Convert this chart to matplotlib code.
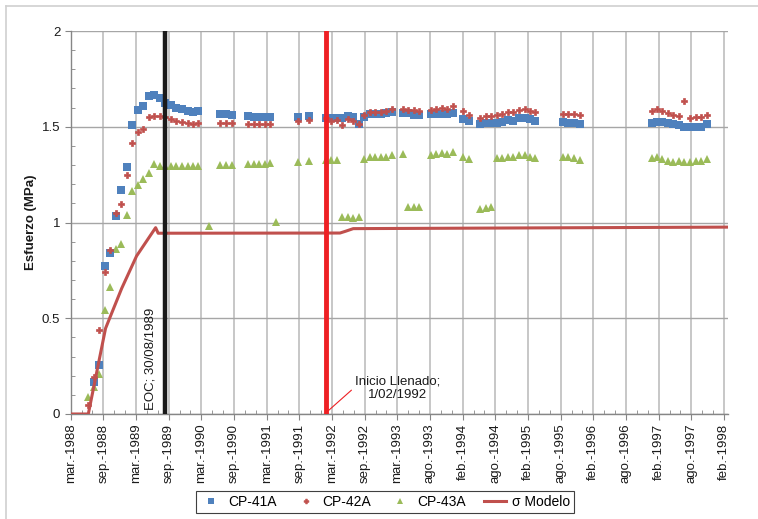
import numpy as np
import pandas as pd
import matplotlib
matplotlib.use('Agg')
import matplotlib.pyplot as plt
from matplotlib.lines import Line2D

plt.rcParams['font.family'] = ['Liberation Sans', 'DejaVu Sans']

# lecturas mensuales de las celdas de presion (MPa)
fechas = [
    '1988-07-01', '1988-08-01', '1988-09-01', '1988-10-01', '1988-11-01', '1988-12-01',
    '1989-01-01', '1989-02-01', '1989-03-01', '1989-04-01', '1989-05-01', '1989-06-01',
    '1989-07-01', '1989-08-01', '1989-09-01', '1989-10-01', '1989-11-01', '1989-12-01',
    '1990-01-01', '1990-02-01', '1990-03-01', '1990-05-01', '1990-07-01', '1990-08-01',
    '1990-09-01', '1990-12-01', '1991-01-01', '1991-02-01', '1991-03-01', '1991-04-01',
    '1991-05-01', '1991-09-01', '1991-11-01', '1992-02-01', '1992-03-01', '1992-04-01',
    '1992-05-01', '1992-06-01', '1992-07-01', '1992-08-01', '1992-09-01', '1992-10-01',
    '1992-11-01', '1992-12-01', '1993-01-01', '1993-02-01', '1993-04-01', '1993-05-01',
    '1993-06-01', '1993-07-01', '1993-09-01', '1993-10-01', '1993-11-01', '1993-12-01',
    '1994-01-01', '1994-03-01', '1994-04-01', '1994-06-01', '1994-07-01', '1994-08-01',
    '1994-09-01', '1994-10-01', '1994-11-01', '1994-12-01', '1995-01-01', '1995-02-01',
    '1995-03-01', '1995-04-01', '1995-09-01', '1995-10-01', '1995-11-01', '1995-12-01',
    '1997-01-01', '1997-02-01', '1997-03-01', '1997-04-01', '1997-05-01', '1997-06-01',
    '1997-07-01', '1997-08-01', '1997-09-01', '1997-10-01', '1997-11-01',
]
nan = np.nan
cp41a = [
    nan, 0.169, 0.257, 0.773, 0.842, 1.035,
    1.17, 1.29, 1.51, 1.59, 1.61, 1.66,
    1.666, 1.65, 1.626, 1.615, 1.60, 1.593,
    1.584, 1.579, 1.584, nan, 1.567, 1.567,
    1.561, 1.558, 1.553, 1.553, 1.55, 1.553,
    nan, 1.553, 1.556, 1.548, 1.548, 1.548,
    1.548, 1.558, 1.553, 1.514, 1.553, 1.567,
    1.565, 1.565, 1.57, 1.575, 1.574, 1.57,
    1.563, 1.563, 1.565, 1.565, 1.565, 1.565,
    1.57, 1.542, 1.53, 1.514, 1.519, 1.521,
    1.521, 1.527, 1.535, 1.532, 1.548, 1.548,
    1.539, 1.532, 1.527, 1.52, 1.52, 1.513,
    1.521, 1.527, 1.527, 1.521, 1.514, 1.509,
    1.50, 1.50, 1.50, 1.50, 1.513,
]
cp42a = [
    0.047, 0.195, 0.437, 0.741, 0.856, 1.051,
    1.098, 1.246, 1.414, 1.47, 1.49, 1.551,
    1.556, 1.558, 1.55, 1.539, 1.53, 1.523,
    1.52, 1.513, 1.518, nan, 1.518, 1.518,
    1.518, 1.515, 1.515, 1.515, 1.514, 1.516,
    nan, 1.528, 1.535, 1.548, 1.532, 1.535,
    1.509, 1.539, 1.53, 1.513, 1.561, 1.577,
    1.575, 1.575, 1.582, 1.591, 1.591, 1.589,
    1.589, 1.582, 1.586, 1.593, 1.596, 1.593,
    1.607, 1.582, 1.561, 1.546, 1.556, 1.558,
    1.56, 1.565, 1.577, 1.575, 1.587, 1.593,
    1.584, 1.575, 1.568, 1.568, 1.565, 1.563,
    1.584, 1.591, 1.584, 1.57, 1.563, 1.558,
    1.636, 1.548, 1.553, 1.553, 1.563,
]
cp43a = [
    0.089, 0.139, 0.209, 0.541, 0.665, 0.862,
    0.889, 1.041, 1.164, 1.197, 1.227, 1.26,
    1.305, 1.297, 1.297, 1.295, 1.294, 1.293,
    1.293, 1.294, 1.295, 0.982, 1.30, 1.30,
    1.302, 1.305, 1.308, 1.307, 1.308, 1.312,
    1.004, 1.318, 1.323, 1.325, 1.325, 1.325,
    1.027, 1.027, 1.025, 1.03, 1.33, 1.34,
    1.34, 1.34, 1.343, 1.35, 1.359, 1.083,
    1.083, 1.083, 1.352, 1.359, 1.361, 1.357,
    1.366, 1.34, 1.332, 1.072, 1.077, 1.08,
    1.337, 1.339, 1.344, 1.344, 1.352, 1.354,
    1.344, 1.337, 1.34, 1.34, 1.338, 1.328,
    1.339, 1.344, 1.332, 1.321, 1.318, 1.32,
    1.318, 1.318, 1.323, 1.323, 1.33,
]

# curva del modelo
modelo_fechas = ['1988-03-28', '1988-07-03', '1988-10-06', '1989-01-03', '1989-03-26',
                 '1989-07-09', '1989-07-23', '1992-04-20', '1992-05-23', '1992-07-02',
                 '1998-03-23']
modelo_valores = [0.0, 0.0, 0.447, 0.656, 0.825, 0.973, 0.944, 0.945, 0.955, 0.968, 0.976]

eje_inicio = '1988-03-28'
eoc = '1989-08-30'
llenado = '1992-02-01'
meses = ['ene', 'feb', 'mar', 'abr', 'may', 'jun', 'jul', 'ago', 'sep', 'oct', 'nov', 'dic']

fig = plt.figure(figsize=(7.58, 5.19), dpi=100)
ax = fig.add_axes([70.7 / 758, 1 - 414 / 519, 657.8 / 758, 383 / 519])

x = pd.to_datetime(fechas)
l1, = ax.plot(x, cp41a, 's', color='#4F81BD', ms=5.4, mew=0, label='CP-41A', zorder=4)
l2, = ax.plot(x, cp42a, 'P', color='#C0504D', mec='#C0504D', ms=4.6, mew=0.5,
              label='CP-42A', zorder=5)
l3, = ax.plot(x, cp43a, '^', color='#9BBB59', ms=5.4, mew=0, label='CP-43A', zorder=3)
l4, = ax.plot(pd.to_datetime(modelo_fechas), modelo_valores, '-', color='#C0504D',
              lw=2.2, label='σ Modelo', zorder=6)

ax.axvline(pd.Timestamp(eoc), color='#1a1a1a', lw=3.2, zorder=7)
ax.axvline(pd.Timestamp(llenado), color='#EE2024', lw=3.5, zorder=7)

ax.text(pd.Timestamp('1989-06-12'), 0.02, 'EOC; 30/08/1989', rotation=90,
        ha='center', va='bottom', fontsize=9.5, color='#1a1a1a', zorder=8)
ax.annotate('Inicio Llenado;\n1/02/1992', xy=(pd.Timestamp(llenado), 0.005),
            xytext=(52, 18), textcoords='offset points', ha='center', va='center',
            fontsize=9.5, color='#1a1a1a', linespacing=1.15,
            arrowprops=dict(arrowstyle='-', color='#EE2024', lw=0.8,
                            relpos=(0, 0.55), shrinkA=1, shrinkB=0))

# eje x con unidad mayor de 180 dias (como en Excel)
inicio = pd.Timestamp(eje_inicio)
mayores = [inicio + pd.Timedelta(days=180 * k) for k in range(21)]
menores = [inicio + pd.Timedelta(days=60 * k) for k in range(61)]
ax.set_xlim(inicio, inicio + pd.Timedelta(days=3625))
ax.set_xticks(mayores)
ax.set_xticklabels([f'{meses[t.month - 1]}.-{t.year}' for t in mayores], rotation=90)
ax.set_xticks(menores, minor=True)

ax.set_ylim(0, 2)
ax.set_yticks([0, 0.5, 1, 1.5, 2])
ax.set_yticklabels(['0', '0.5', '1', '1.5', '2'])
ax.set_yticks(np.arange(0, 2.01, 0.1), minor=True)

ax.tick_params(axis='both', which='major', labelsize=9.5, colors='#868686',
               labelcolor='#1a1a1a', length=4, direction='out')
ax.tick_params(axis='both', which='minor', colors='#868686', length=3, direction='in')
ax.tick_params(axis='x', which='major', pad=3)

ax.grid(axis='x', which='major', color='#BDBDBD', lw=1.2)
ax.grid(axis='y', which='major', color='#A6A6A6', lw=1.0)
ax.set_axisbelow(True)
for s in ['top', 'right']:
    ax.spines[s].set_visible(False)
for s in ['left', 'bottom']:
    ax.spines[s].set_color('#868686')
    ax.spines[s].set_linewidth(1.0)

ax.set_ylabel('Esfuerzo (MPa)', fontsize=9.5, fontweight='bold', color='#1a1a1a')
ax.yaxis.set_label_coords(-34 / 657.8, 0.5)

leg = fig.legend(handles=[l1, l2, l3, l4], loc='center',
                 bbox_to_anchor=(385 / 758, 1 - 502 / 519), ncol=4, fontsize=10,
                 frameon=True, fancybox=False, edgecolor='#404040', framealpha=1,
                 handlelength=1.6, columnspacing=1.3, handletextpad=0.4,
                 borderpad=0.3, markerscale=0.75)
leg.get_frame().set_linewidth(0.8)

# marco exterior del grafico
fig.add_artist(Line2D([6 / 758, 6 / 758], [0, 1 - 6 / 519], color='#D0D0D0', lw=1.2))
fig.add_artist(Line2D([6 / 758, 1], [1 - 6 / 519, 1 - 6 / 519], color='#D0D0D0', lw=1.2))

fig.savefig('out.png', dpi=100)
